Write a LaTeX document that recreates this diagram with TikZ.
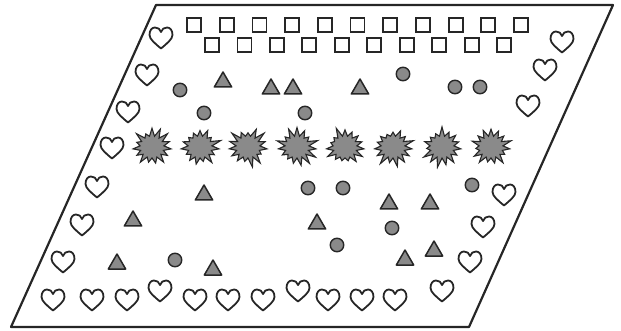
\documentclass[tikz,border=0pt]{standalone}
\usetikzlibrary{shapes.geometric,shapes.symbols,calc}
\definecolor{ink}{HTML}{262626}
\definecolor{shade}{HTML}{8A8A8A}
\tikzset{
  frame/.style={draw=ink,line width=2.2pt,line join=round},
  sq/.style={draw=ink,line width=1.8pt,fill=white,minimum size=14pt,inner sep=0pt},
  dot/.style={circle,draw=ink,line width=1.4pt,fill=shade,minimum size=13.5pt,inner sep=0pt},
  tri/.style={regular polygon,regular polygon sides=3,draw=ink,line width=1.5pt,line join=round,fill=shade,minimum size=20pt,inner sep=0pt},
  burst/.style={starburst,starburst points=15,starburst point height=10pt,draw=ink,line width=1.1pt,line join=miter,fill=shade,minimum width=44pt,minimum height=42pt,inner sep=0pt},
  heartnode/.style={minimum width=25pt,minimum height=23pt,inner sep=0pt},
  heartline/.style={draw=ink,line width=1.8pt,fill=white,line join=round}
}
\newcommand{\myheart}[3]{%
  \node[heartnode] (#1) at (#2,#3) {};
  \draw[heartline] ($(#1)+(0,10.5)$) .. controls ++(-6,-5) and ++(0,4) .. ($(#1)+(-11.5,-3)$)
     .. controls ++(0,-5) and ++(-3,0) .. ($(#1)+(-6,-10.5)$)
     .. controls ++(3,0) and ++(-1,-3) .. ($(#1)+(0,-6)$)
     .. controls ++(1,-3) and ++(-3,0) .. ($(#1)+(6,-10.5)$)
     .. controls ++(3,0) and ++(0,-5) .. ($(#1)+(11.5,-3)$)
     .. controls ++(0,4) and ++(6,-5) .. ($(#1)+(0,10.5)$) -- cycle;}
\begin{document}
\begin{tikzpicture}[x=1pt,y=-1pt]
\useasboundingbox (0,0) rectangle (621,331);
% frame
\coordinate (p1) at (156,5);
\coordinate (p2) at (613,5);
\coordinate (p3) at (469,327);
\coordinate (p4) at (11,327);
\draw[frame] (p1) -- (p2) -- (p3) -- (p4) -- cycle;
% squares
\foreach \x [count=\i] in {194,226.7,259.4,292.1,324.8,357.5,390.2,422.9,455.6,488.3,521}
  \node[sq] (sqa\i) at (\x,25) {};
\foreach \x [count=\i] in {212,244.4,276.9,309.3,341.8,374.2,406.7,439.1,471.6,504}
  \node[sq] (sqb\i) at (\x,45) {};
% hearts
\myheart{hl1}{161}{38}
\myheart{hl2}{147}{75}
\myheart{hl3}{128}{112}
\myheart{hl4}{112}{148}
\myheart{hl5}{97}{187}
\myheart{hl6}{82}{225}
\myheart{hl7}{63}{262}
\myheart{hb1}{53}{300}
\myheart{hb2}{92}{300}
\myheart{hb3}{127}{300}
\myheart{hb4}{160}{291}
\myheart{hb5}{195}{300}
\myheart{hb6}{228}{300}
\myheart{hb7}{263}{300}
\myheart{hb8}{298}{291}
\myheart{hb9}{328}{300}
\myheart{hb10}{362}{300}
\myheart{hb11}{395}{300}
\myheart{hb12}{442}{291}
\myheart{hr1}{562}{42}
\myheart{hr2}{545}{70}
\myheart{hr3}{528}{106}
\myheart{hr4}{504}{195}
\myheart{hr5}{483}{227}
\myheart{hr6}{470}{262}
% starbursts
\foreach \x [count=\i] in {152,200,248,297,345,393,442,491}
  \node[burst,random starburst=\i] (st\i) at (\x,147) {};
% triangles
\foreach \x/\y [count=\i] in {223/82,271/89,293/89,360/89,204/195,133/221,317/224,389/204,430/204,117/264,213/270,405/260,434/251}
  \node[tri] (tr\i) at (\x,\y) {};
% circles
\foreach \x/\y [count=\i] in {180/90,204/113,305/113,403/74,455/87,480/87,308/188,343/188,472/185,392/228,337/245,175/260}
  \node[dot] (ci\i) at (\x,\y) {};
\end{tikzpicture}
\end{document}
